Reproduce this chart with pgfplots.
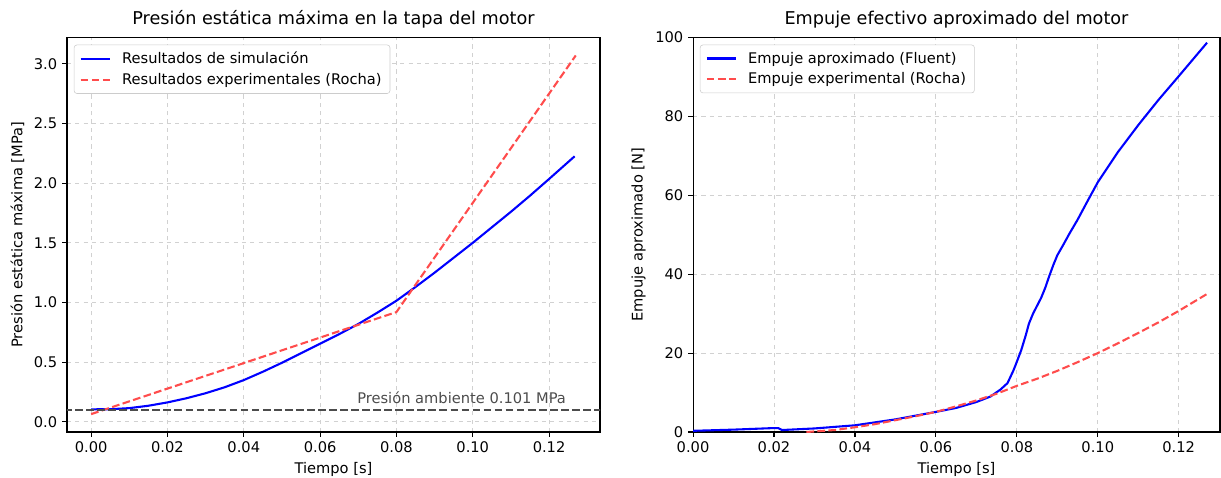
\documentclass[border=0pt]{standalone}
\usepackage{fontspec}
\setmainfont{DejaVu Sans}
\usepackage{pgfplots}
\pgfplotsset{compat=1.18}
\definecolor{redA}{rgb}{1,0.3,0.3}
\definecolor{grayA}{rgb}{0.3,0.3,0.3}
\newcommand{\fs}{\fontsize{10.55}{12.5}\selectfont}
\pgfplotsset{
  mpl/.style={
    scale only axis,
    anchor=south west,
    font=\fs,
    title style={font=\fontsize{12.7}{15}\selectfont, yshift=-3pt},
    /pgf/number format/assume math mode=true,
    tick align=outside,
    tick pos=left,
    major tick length=3.5pt,
    every tick/.style={black, line width=0.8pt},
    axis line style={line width=0.8pt},
    grid=major,
    major grid style={dashed, color=black!18, line width=0.7pt},
    xtick={0,0.02,0.04,0.06,0.08,0.10,0.12},
    xticklabel style={/pgf/number format/.cd, fixed, fixed zerofill, precision=2},
    scaled x ticks=false,
    scaled y ticks=false,
    legend cell align=left,
    legend style={at={(0.013,0.982)}, anchor=north west, draw=black!20, rounded corners=2pt,
      font=\fs, row sep=1.5pt, inner xsep=4pt, inner ysep=3pt,
      /tikz/every odd column/.append style={column sep=6pt}},
    legend image code/.code={\draw[#1] (0pt,0pt) -- (21pt,0pt);},
  },
  dashA/.style={dash pattern=on 5.55pt off 2.4pt},
}
\begin{document}
\begin{tikzpicture}[x=1pt,y=1pt]
\useasboundingbox (0,0) rectangle (879.12,343.44);
\begin{axis}[mpl,
  at={(48.2pt,32.4pt)}, width=383.8pt, height=284pt,
  xmin=-0.00635, xmax=0.13335, ymin=-0.085, ymax=3.22,
  ytick={0,0.5,1,1.5,2,2.5,3},
  yticklabel style={/pgf/number format/.cd, fixed, fixed zerofill, precision=1},
  title={Presión estática máxima en la tapa del motor},
  xlabel={Tiempo [s]},
  ylabel={Presión estática máxima [MPa]},
]
\addplot[blue, line width=1.5pt] coordinates {
(0,0.105) (0.005,0.106) (0.01,0.115) (0.015,0.135) (0.02,0.163) (0.025,0.198)
(0.03,0.24) (0.035,0.29) (0.04,0.35) (0.045,0.42) (0.05,0.495) (0.055,0.575)
(0.06,0.655) (0.065,0.735) (0.07,0.82) (0.075,0.915) (0.08,1.015) (0.085,1.13)
(0.09,1.25) (0.095,1.375) (0.10,1.50) (0.105,1.63) (0.11,1.76) (0.115,1.895)
(0.12,2.035) (0.1267,2.225)};
\addlegendentry{Resultados de simulación}
\addplot[redA, line width=1.5pt, dashA] coordinates {(0,0.065) (0.08,0.92) (0.127,3.07)};
\addlegendentry{Resultados experimentales (Rocha)}
\addplot[grayA, line width=1.5pt, dashA, forget plot] coordinates {(-0.01,0.101) (0.14,0.101)};
\node[anchor=base east, text=grayA, font=\fs, inner sep=0pt] at (axis cs:0.1245,0.158) {Presión ambiente 0.101 MPa};
\end{axis}
\begin{axis}[mpl,
  at={(499pt,32.4pt)}, width=379.4pt, height=284pt,
  xmin=0, xmax=0.1302, ymin=0, ymax=100,
  ytick={0,20,40,60,80,100},
  title={Empuje efectivo aproximado del motor},
  xlabel={Tiempo [s]},
  ylabel={Empuje aproximado [N]},
]
\addplot[blue, line width=1.5pt] coordinates {
(0,0.3) (0.01,0.6) (0.02,1.0) (0.021,1.0) (0.022,0.5) (0.03,0.9) (0.04,1.7)
(0.05,3.2) (0.06,5.1) (0.065,6.1) (0.07,7.6) (0.0735,9.0) (0.076,10.8)
(0.0777,12.4) (0.0792,15.7) (0.08,17.8) (0.0811,20.8) (0.0822,24.5) (0.083,27.5)
(0.084,30) (0.085,32) (0.086,34) (0.087,36.5) (0.088,39.5) (0.089,42.3)
(0.090,44.8) (0.0915,47.5) (0.093,50.3) (0.095,53.8) (0.0975,58.6) (0.10,63.3)
(0.105,71) (0.11,77.8) (0.115,84.2) (0.12,90.2) (0.127,98.7)};
\addlegendentry{Empuje aproximado (Fluent)}
\addplot[redA, line width=1.5pt, dashA] coordinates {
(0.028,0) (0.035,0.5) (0.04,1.2) (0.045,2.0) (0.05,3.0) (0.055,4.0) (0.06,5.1)
(0.065,6.5) (0.07,8.0) (0.075,9.7) (0.08,11.7) (0.085,13.5) (0.09,15.5)
(0.095,17.7) (0.10,20) (0.105,22.5) (0.11,25.1) (0.115,27.8) (0.12,30.7) (0.127,35)};
\addlegendentry{Empuje experimental (Rocha)}
\end{axis}
\end{tikzpicture}
\end{document}
